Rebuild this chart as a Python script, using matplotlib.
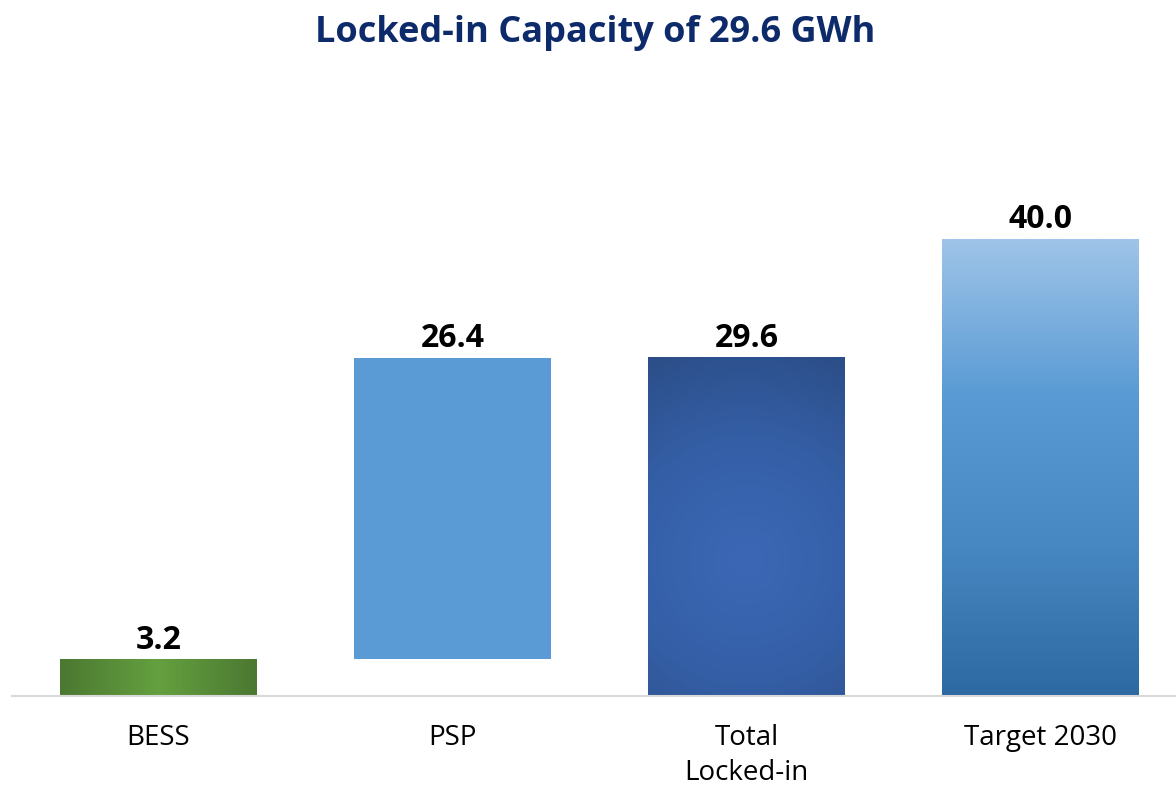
import numpy as np
import matplotlib.pyplot as plt
from matplotlib.colors import LinearSegmentedColormap

plt.rcParams['font.family'] = ['Open Sans', 'DejaVu Sans']

# Data (GWh)
categories = ["BESS", "PSP", "Total\nLocked-in", "Target 2030"]
values = [3.2, 26.4, 29.6, 40.0]
is_step = [True, True, False, False]   # steps float on the running sum, totals start at zero
title = "Locked-in Capacity of 29.6 GWh"

# waterfall bottoms
bottoms = []
running = 0.0
for v, step in zip(values, is_step):
    if step:
        bottoms.append(running)
        running += v
    else:
        bottoms.append(0.0)

# -------------------------------------------------------------------
# gradient fills (Excel-style)
# -------------------------------------------------------------------
def horiz_edges(n=200):
    x = np.linspace(0, 1, n)
    return np.tile(x, (2, 1))

def vertical(n=200):
    y = np.linspace(0, 1, n)
    return np.tile(y[:, None], (1, 2))

def radial(n=200, cx=0.5, cy=0.4, aspect=1.7):
    xx, yy = np.meshgrid(np.linspace(0, 1, n), np.linspace(0, 1, n))
    r = np.sqrt((xx - cx) ** 2 + ((yy - cy) * aspect) ** 2)
    return np.clip(r / r.max(), 0, 1)

fills = [
    (horiz_edges(), LinearSegmentedColormap.from_list("g", ["#4c7832", "#64a03f", "#4c7832"])),
    None,
    (radial(), LinearSegmentedColormap.from_list("r", ["#3b67b5", "#3560a8", "#2c4e88"])),
    (vertical(), LinearSegmentedColormap.from_list("v", ["#2d69a2", "#4888c2", "#5b9bd5", "#9ec4e8"])),
]
flat_color = "#5b9bd5"

# -------------------------------------------------------------------
# figure
# -------------------------------------------------------------------
W, H = 1176, 787
fig = plt.figure(figsize=(W / 100, H / 100), dpi=100)
ax = fig.add_axes([11.5 / W, (H - 696) / H, 1176 / W, (696 - 182) / H])

x = np.arange(len(categories))
width = 0.67

bars = ax.bar(x, values, width, bottom=bottoms, color=flat_color, zorder=2)

for i, (b, fill) in enumerate(zip(bars, fills)):
    if fill is None:
        continue
    arr, cmap = fill
    b.set_alpha(0)
    ax.imshow(arr, cmap=cmap, origin="lower", aspect="auto", interpolation="bilinear",
              extent=(x[i] - width / 2, x[i] + width / 2, bottoms[i], bottoms[i] + values[i]),
              zorder=2)

for i, v in enumerate(values):
    ax.annotate(f"{v:.1f}", (x[i], bottoms[i] + v), xytext=(0, 2), textcoords="offset points",
                ha="center", va="bottom", fontsize=23, fontweight="bold", color="black")

ax.set_xlim(-0.5, len(categories) - 0.5)
ax.set_ylim(0, 45)
ax.set_xticks(x)
ax.set_xticklabels(categories, fontsize=20, linespacing=1.35)
ax.tick_params(axis="x", length=0, pad=20)
ax.set_yticks([])
for s in ["top", "left", "right"]:
    ax.spines[s].set_visible(False)
ax.spines["bottom"].set_color("#d9d9d9")
ax.spines["bottom"].set_linewidth(1.5)
ax.spines["bottom"].set_zorder(3)

fig.text(595 / W, 1 - 33 / H, title, ha="center", va="center",
         fontsize=26, fontweight="bold", color="#0d2a6b")

fig.savefig("out.png", dpi=100)
